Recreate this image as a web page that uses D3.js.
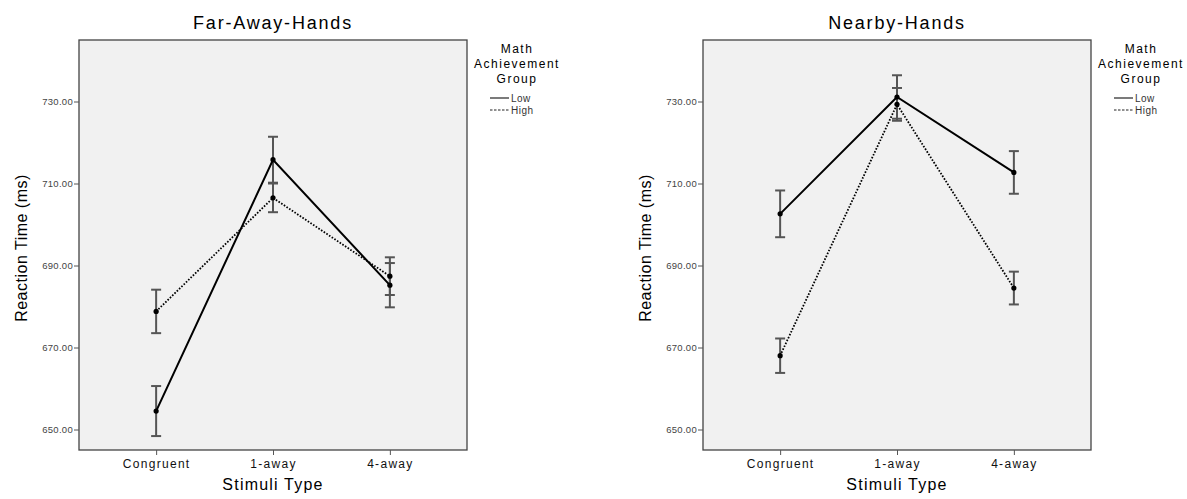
<!DOCTYPE html>
<html>
<head>
<meta charset="utf-8">
<script src="https://cdn.jsdelivr.net/npm/d3@7"></script>
<style>
  body { margin: 0; background: #fff; }
  svg text { font-family: "Liberation Sans", Arial, sans-serif; }
</style>
</head>
<body>
<div id="chart"></div>
<script>
//Chart data
const categories = ["Congruent", "1-away", "4-away"];
const yTicks = [650, 670, 690, 710, 730];
const groups = ["Low", "High"];

const farLow = [654.5, 715.8, 685.2];
const farLowErr = [6.1, 5.6, 5.4];
const farHigh = [678.8, 706.5, 687.4];
const farHighErr = [5.3, 3.5, 4.6];

const nearLow = [702.6, 731.1, 712.7];
const nearLowErr = [5.7, 5.3, 5.2];
const nearHigh = [668.0, 729.3, 684.5];
const nearHighErr = [4.2, 4.0, 4.0];

const panels = [
  {title: "Far-Away-Hands", left: 79, series: [
    {name: "Low", mean: farLow, err: farLowErr},
    {name: "High", mean: farHigh, err: farHighErr}]},
  {title: "Nearby-Hands", left: 703, series: [
    {name: "Low", mean: nearLow, err: nearLowErr},
    {name: "High", mean: nearHigh, err: nearHighErr}]}
];

//Set the dimensions of the page
const width = 1187, height = 499;
const plotW = 388, plotTop = 40, plotBottom = 450;

const svg = d3.select("#chart")
  .append("svg")
  .attr("width", width)
  .attr("height", height);

const y = d3.scaleLinear()
  .domain([645, 745])
  .range([plotBottom, plotTop]);

const dash = {Low: null, High: "1.6,1.6"};

panels.forEach(p => {
  const g = svg.append("g").attr("transform", `translate(${p.left}, 0)`);

  const x = d3.scalePoint()
    .domain(categories)
    .range([0, plotW])
    .padding(0.66);

  //Plot background
  g.append("rect")
    .attr("x", 0).attr("y", plotTop)
    .attr("width", plotW).attr("height", plotBottom - plotTop)
    .attr("fill", "#f1f1f1")
    .attr("stroke", "#444")
    .attr("stroke-width", 1.3);

  //Y axis
  const yAxis = g.append("g")
    .call(d3.axisLeft(y).tickValues(yTicks).tickSize(5).tickFormat(d3.format(".2f")));
  yAxis.select(".domain").remove();
  yAxis.selectAll(".tick line").attr("stroke", "#555");
  yAxis.selectAll(".tick text")
    .attr("x", -6)
    .attr("fill", "#444")
    .style("font-size", "9.5px")
    .style("letter-spacing", "0.3px");

  //X axis
  const xAxis = g.append("g")
    .attr("transform", `translate(0, ${plotBottom})`)
    .call(d3.axisBottom(x).tickSize(5));
  xAxis.select(".domain").remove();
  xAxis.selectAll(".tick line").attr("stroke", "#555");
  xAxis.selectAll(".tick text")
    .attr("y", 9)
    .attr("fill", "#111")
    .style("font-size", "12px")
    .style("letter-spacing", "1.3px");

  //Titles and axis labels
  g.append("text")
    .attr("x", plotW / 2).attr("y", 29)
    .attr("text-anchor", "middle")
    .style("font-size", "18px")
    .style("letter-spacing", "1.8px")
    .text(p.title);

  g.append("text")
    .attr("x", plotW / 2).attr("y", 490)
    .attr("text-anchor", "middle")
    .style("font-size", "16px")
    .style("letter-spacing", "1.2px")
    .text("Stimuli Type");

  g.append("text")
    .attr("transform", `translate(-52, ${(plotTop + plotBottom) / 2 + 3}) rotate(-90)`)
    .attr("text-anchor", "middle")
    .style("font-size", "16px")
    .style("letter-spacing", "0.5px")
    .text("Reaction Time (ms)");

  //Error bars
  p.series.forEach(s => {
    const eb = g.append("g");
    categories.forEach((c, i) => {
      const cx = x(c), hi = y(s.mean[i] + s.err[i]), lo = y(s.mean[i] - s.err[i]);
      eb.append("line").attr("x1", cx).attr("x2", cx).attr("y1", hi).attr("y2", lo);
      eb.append("line").attr("x1", cx - 5).attr("x2", cx + 5).attr("y1", hi).attr("y2", hi);
      eb.append("line").attr("x1", cx - 5).attr("x2", cx + 5).attr("y1", lo).attr("y2", lo);
    });
    eb.selectAll("line").attr("stroke", "#555").attr("stroke-width", 2);
  });

  //Lines and points
  const line = d3.line()
    .x((d, i) => x(categories[i]))
    .y(d => y(d));

  p.series.forEach(s => {
    g.append("path")
      .datum(s.mean)
      .attr("d", line)
      .attr("fill", "none")
      .attr("stroke", "#000")
      .attr("stroke-width", s.name === "Low" ? 2 : 1.8)
      .attr("stroke-dasharray", dash[s.name]);
    g.selectAll(null)
      .data(s.mean)
      .join("circle")
      .attr("cx", (d, i) => x(categories[i]))
      .attr("cy", d => y(d))
      .attr("r", 2.6)
      .attr("fill", "#000");
  });

  //Legend
  const lg = g.append("g").attr("transform", `translate(${plotW + 50}, 0)`);
  ["Math", "Achievement", "Group"].forEach((t, i) => {
    lg.append("text")
      .attr("x", 0).attr("y", 53 + i * 15)
      .attr("text-anchor", "middle")
      .style("font-size", "12px")
      .style("letter-spacing", "1.5px")
      .text(t);
  });
  groups.forEach((gname, i) => {
    const ly = 98 + i * 12;
    lg.append("line")
      .attr("x1", -27).attr("x2", -8)
      .attr("y1", ly).attr("y2", ly)
      .attr("stroke", "#222")
      .attr("stroke-width", 1.2)
      .attr("stroke-dasharray", gname === "High" ? "2.5,1.5" : null);
    lg.append("text")
      .attr("x", -6).attr("y", ly + 3.5)
      .style("font-size", "10px")
      .style("letter-spacing", "0.5px")
      .attr("fill", "#333")
      .text(gname);
  });
});
</script>
</body>
</html>
